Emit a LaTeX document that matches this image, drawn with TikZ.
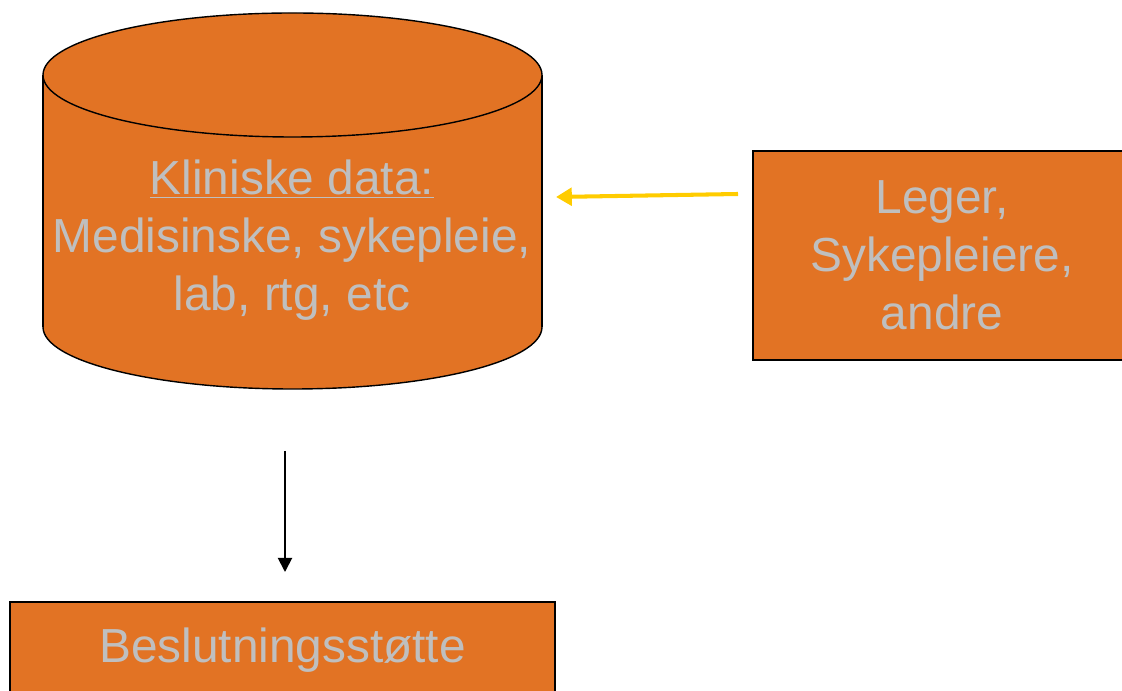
\documentclass[tikz,border=0pt]{standalone}
\usepackage{fontspec}
\setmainfont{Liberation Sans}
\usepackage{xcolor}
\usetikzlibrary{arrows.meta}

\definecolor{boxorange}{RGB}{226,115,36}
\definecolor{textgray}{RGB}{191,191,191}
\definecolor{arrowyellow}{RGB}{255,204,0}

\tikzset{
  box/.style={draw=black, line width=0.8pt, fill=boxorange, text=textgray,
    align=center, inner sep=0pt,
    font=\fontsize{27.2}{33}\selectfont},
  label text/.style={text=textgray, align=center, inner sep=0pt,
    font=\fontsize{27.2}{33}\selectfont},
  yellow arrow/.style={draw=arrowyellow, line width=2.3pt,
    -{Triangle[length=9pt,width=10pt]}},
  black arrow/.style={draw=black, line width=1.1pt,
    -{Triangle[length=8pt,width=8pt]}}
}

\begin{document}
\begin{tikzpicture}
			\useasboundingbox (0,0) rectangle (22.44,13.8);
			% cylinder
			\filldraw[fill=boxorange, draw=black, line width=0.8pt] (5.85,7.26) ellipse [x radius=4.99cm, y radius=1.24cm];
			\fill[boxorange] (0.86,7.26) rectangle (10.84,12.3);
			\draw[line width=0.8pt] (0.86,7.26) -- (0.86,12.3) (10.84,7.26) -- (10.84,12.3);
			\filldraw[fill=boxorange, draw=black, line width=0.8pt] (5.85,12.3) ellipse [x radius=4.99cm, y radius=1.24cm];
			\node[label text] (db) at (5.84,9.0) {\underline{Kliniske data:}\\Medisinske, sykepleie,\\lab, rtg, etc};
			\node[box, minimum width=7.56cm, minimum height=4.18cm] (staff) at (18.84,8.69) {\raisebox{-2pt}{\parbox{7cm}{\centering Leger,\\Sykepleiere,\\andre}}};
			\node[box, minimum width=10.9cm, minimum height=1.92cm] (support) at (5.65,0.8) {Beslutningsstøtte};
			\coordinate (yel-start) at (14.76,9.92);
			\coordinate (yel-end) at (11.12,9.86);
			\coordinate (blk-start) at (5.7,4.78);
			\coordinate (blk-end) at (5.7,2.36);
			\draw[yellow arrow] (yel-start) -- (yel-end);
			\draw[black arrow] (blk-start) -- (blk-end);
		\end{tikzpicture}
\end{document}
